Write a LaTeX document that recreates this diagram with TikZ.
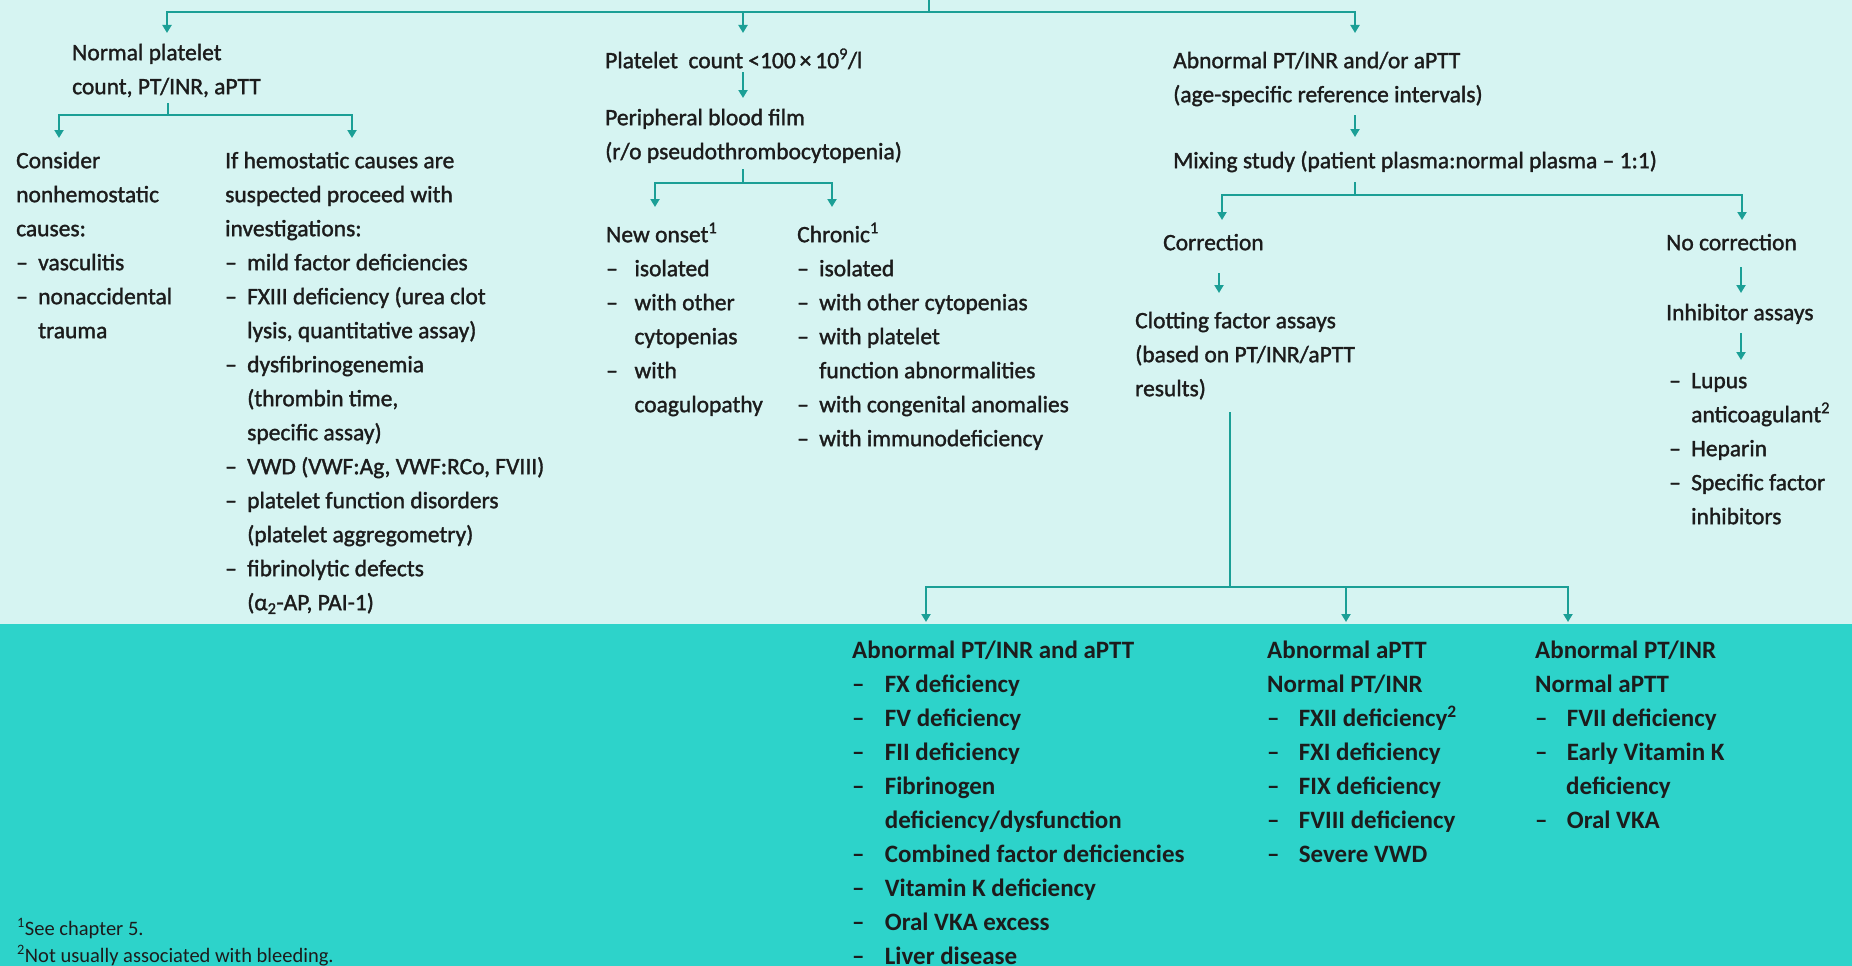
\documentclass[tikz,border=0pt]{standalone}
\usepackage{fontspec}
\setmainfont{Carlito}
\newfontfamily\topfont{Carlito}[FakeBold=1.4,Ligatures=TeX]
\usetikzlibrary{arrows.meta}

\definecolor{paneltop}{HTML}{D6F4F2}
\definecolor{panelbot}{HTML}{2DD3CA}
\definecolor{flow}{HTML}{1B9F96}
\definecolor{ink}{HTML}{1C1C1C}

% fixed first-line height and last-line depth, so node borders are predictable
\newcommand\fst{\rule{0pt}{21pt}}
\newcommand\bst{\rule{0pt}{23pt}}
\newcommand\lst{\rule[-7pt]{0pt}{7pt}}
% list dash and hanging indent
\newcommand\dsh[1][22pt]{\makebox[#1][l]{–}}
\newcommand\hng[1][22pt]{\hspace*{#1}}

\tikzset{
  ln/.style={draw=flow, line width=2.2pt},
  arr/.style={ln, -{Triangle[width=9pt,length=8pt]}},
  blk/.style={anchor=north west, inner sep=0pt, align=left, text=ink,
    font=\topfont\fontsize{23.5}{34}\selectfont},
  bblk/.style={blk, font=\bfseries\fontsize{25}{34}\selectfont},
  note/.style={blk, font=\fontsize{20.5}{27}\selectfont},
}

\begin{document}
\begin{tikzpicture}[x=1pt,y=-1pt]
\useasboundingbox (0,0) rectangle (1852,966);
\fill[paneltop] (0,0) rectangle (1852,624);
\fill[panelbot] (0,624) rectangle (1852,966);

% ---------- first level ----------
\node[blk] (np) at (72,39) {\fst Normal platelet\\count, PT/INR, aPTT\lst};
\node[blk] (pc) at (605,47) {\fst Platelet\ \ count <100\,×\,10\textsuperscript{9}/l\lst};
\node[blk] (abn) at (1173,47) {\fst Abnormal PT/INR and/or aPTT\\(age-specific reference intervals)\lst};

% ---------- left branch ----------
\node[blk] (cons) at (16,147) {\fst Consider\\nonhemostatic\\causes:\\\dsh vasculitis\\\dsh nonaccidental\\\hng trauma\lst};
\node[blk] (hemo) at (225,147) {\fst If hemostatic causes are\\suspected proceed with\\investigations:\\
  \dsh mild factor deficiencies\\
  \dsh FXIII deficiency (urea clot\\\hng lysis, quantitative assay)\\
  \dsh dysfibrinogenemia\\\hng (thrombin time,\\\hng specific assay)\\
  \dsh VWD (VWF:Ag, VWF:RCo, FVIII)\\
  \dsh platelet function disorders\\\hng (platelet aggregometry)\\
  \dsh fibrinolytic defects\\\hng (α\textsubscript{2}-AP, PAI-1)\lst};

% ---------- middle branch ----------
\node[blk] (pbf) at (605,104) {\fst Peripheral blood film\\(r/o pseudothrombocytopenia)\lst};
\node[blk] (newo) at (606,221) {\fst New onset\textsuperscript{1}\\
  \dsh[23pt] isolated\\\dsh[23pt] with other\\\hng[23pt] cytopenias\\
  \dsh[23pt] with\\\hng[23pt] coagulopathy\lst};
\node[blk] (chro) at (797,221) {\fst Chronic\textsuperscript{1}\\
  \dsh isolated\\\dsh with other cytopenias\\\dsh with platelet\\
  \hng function abnormalities\\\dsh with congenital anomalies\\
  \dsh with immunodeficiency\lst};

% ---------- right branch ----------
\node[blk] (mix) at (1173,147) {\fst Mixing study (patient plasma:normal plasma – 1:1)\lst};
\node[blk] (corr) at (1163,229) {\fst Correction\lst};
\node[blk] (clot) at (1135,307) {\fst Clotting factor assays\\(based on PT/INR/aPTT\\results)\lst};
\node[blk] (nocorr) at (1666,229) {\fst No correction\lst};
\node[blk] (inh) at (1666,299) {\fst Inhibitor assays\lst};
\node[blk] (inhl) at (1669,367) {\fst \dsh Lupus\\\hng anticoagulant\textsuperscript{2}\\
  \dsh Heparin\\\dsh Specific factor\\\hng inhibitors\lst};

% ---------- result groups ----------
\node[bblk] (g1) at (852,635) {\bst Abnormal PT/INR and aPTT\\
  \dsh[27pt] FX deficiency\\\dsh[27pt] FV deficiency\\\dsh[27pt] FII deficiency\\
  \dsh[27pt] Fibrinogen\\\hng[27pt] deficiency/dysfunction\\
  \dsh[27pt] Combined factor deficiencies\\\dsh[27pt] Vitamin K deficiency\\
  \dsh[27pt] Oral VKA excess\\\dsh[27pt] Liver disease\lst};
\node[bblk] (g2) at (1267,635) {\bst Abnormal aPTT\\Normal PT/INR\\
  \dsh[26pt] FXII deficiency\textsuperscript{2}\\\dsh[26pt] FXI deficiency\\
  \dsh[26pt] FIX deficiency\\\dsh[26pt] FVIII deficiency\\\dsh[26pt] Severe VWD\lst};
\node[bblk] (g3) at (1535,635) {\bst Abnormal PT/INR\\Normal aPTT\\
  \dsh[26pt] FVII deficiency\\\dsh[26pt] Early Vitamin K\\
  \hng[31pt]deficiency\\\dsh[26pt] Oral VKA\lst};

% ---------- footnotes ----------
\node[note] (fn) at (17,916) {\rule{0pt}{19pt}\textsuperscript{1}See chapter 5.\\
  \textsuperscript{2}Not usually associated with bleeding.};

% ---------- connectors ----------
\coordinate (top) at (929,0);
\coordinate (hub) at (929,12);
\draw[ln] (top) -- (hub);
\draw[arr] (hub) -| ([xshift=95pt,yshift=6pt]np.north west);
\draw[arr] (hub) -| ([xshift=138pt,yshift=14pt]pc.north west);
\draw[arr] (hub) -| ([xshift=182pt,yshift=14pt]abn.north west);

\coordinate (j1) at (168,115);
\draw[ln, shorten <=2pt] (j1 |- np.south) -- (j1);
\draw[arr] (j1) -| ([xshift=43pt,yshift=9pt]cons.north west);
\draw[arr] (j1) -| ([xshift=127pt,yshift=9pt]hemo.north west);

\draw[arr] ([xshift=138pt,yshift=3pt]pc.south west) -- ([xshift=138pt,yshift=6pt]pbf.north west);
\coordinate (j2) at (743,183);
\draw[ln, shorten <=3pt] (j2 |- pbf.south) -- (j2);
\draw[arr] (j2) -| ([xshift=49pt,yshift=14pt]newo.north west);
\draw[arr] (j2) -| ([xshift=35pt,yshift=14pt]chro.north west);

\draw[arr] ([xshift=182pt,yshift=-6pt]abn.south west) -- ([xshift=182pt,yshift=10pt]mix.north west);
\coordinate (j3) at (1355,195);
\draw[ln, shorten <=7pt] (j3 |- mix.south) -- (j3);
\draw[arr] (j3) -| ([xshift=59pt,yshift=9pt]corr.north west);
\draw[arr] (j3) -| ([xshift=76pt,yshift=9pt]nocorr.north west);
\draw[arr] ([xshift=56pt,yshift=-16pt]corr.south west) -- ([xshift=84pt,yshift=14pt]clot.north west);
\draw[arr] ([xshift=75pt,yshift=-10pt]nocorr.south west) -- ([xshift=75pt,yshift=6pt]inh.north west);
\draw[arr] ([xshift=75pt,yshift=-6pt]inh.south west) -- ([xshift=72pt,yshift=7pt]inhl.north west);

\coordinate (j4) at (1230,587);
\draw[ln, shorten <=9pt] (j4 |- clot.south) -- (j4);
\draw[arr] (j4) -| ([xshift=74pt,yshift=13pt]g1.north west);
\draw[arr] (j4) -| ([xshift=79pt,yshift=13pt]g2.north west);
\draw[arr] (j4) -| ([xshift=33pt,yshift=13pt]g3.north west);
\end{tikzpicture}
\end{document}
